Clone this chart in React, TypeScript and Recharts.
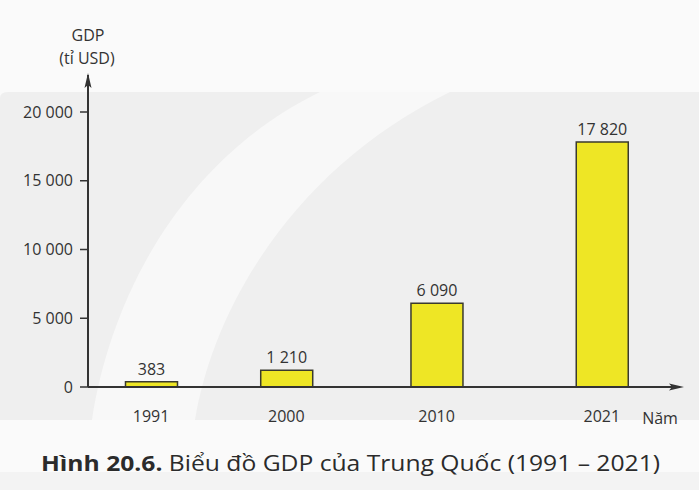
import React from "react";
import { BarChart, Bar, XAxis, YAxis, LabelList } from "recharts";

const years = [1991, 2000, 2010, 2021];
const gdp = [383, 1210, 6090, 17820];
const yTicks = [0, 5000, 10000, 15000, 20000];

const data = years.map((year, i) => ({ year, gdp: gdp[i] }));

const FONT = "'Open Sans', 'Noto Sans', sans-serif";
const INK = "#333333";

// "17820" -> "17 820"
function fmt(v: number | string): string {
  return String(v).replace(/\B(?=(\d{3})+(?!\d))/g, " ");
}

export default function App() {
  return (
    <div
      style={{
        position: "absolute",
        left: 0,
        top: 0,
        width: 699,
        height: 490,
        background: "#fafafa",
        fontFamily: FONT,
        overflow: "hidden",
      }}
    >
      {/* faded watermark behind the chart */}
      <svg width={699} height={490} style={{ position: "absolute", left: 0, top: 0 }}>
        <path d="M0 98 Q0 92 8 92 L699 92 L699 420 L0 420 Z" fill="#efefef" />
        <path
          d="M92 420 C110 300 180 160 320 92 L450 92 C300 165 215 300 195 420 Z"
          fill="#f8f8f8"
        />
        <path d="M0 472 L699 472 L699 490 L0 490 Z" fill="#f3f3f3" />
      </svg>

      <div style={{ position: "absolute", left: 0, top: 0 }}>
        <BarChart
          width={699}
          height={490}
          data={data}
          margin={{ top: 75, right: 19, bottom: 73, left: 8 }}
        >
          <XAxis
            dataKey="year"
            type="number"
            domain={[1986.8, 2026.2]}
            ticks={years}
            allowDataOverflow
            axisLine={{ stroke: INK, strokeWidth: 2 }}
            tickLine={false}
            tickSize={0}
            tickMargin={24}
            tick={{ fill: INK, fontSize: 16, fontFamily: FONT }}
          />
          <YAxis
            type="number"
            domain={[0, 22691]}
            ticks={yTicks}
            allowDataOverflow
            width={80}
            axisLine={{ stroke: INK, strokeWidth: 2 }}
            tickLine={{ stroke: INK, strokeWidth: 1.5 }}
            tickSize={8}
            tickMargin={7}
            tickFormatter={fmt}
            tick={{ fill: INK, fontSize: 16, fontFamily: FONT }}
          />
          <Bar
            dataKey="gdp"
            barSize={52}
            fill="#eee625"
            stroke="#3a3a2e"
            strokeWidth={1.5}
            isAnimationActive={false}
          >
            <LabelList
              dataKey="gdp"
              position="top"
              offset={7}
              formatter={(v: any) => fmt(v)}
              fill={INK}
              fontSize={16}
              fontFamily={FONT}
            />
          </Bar>
        </BarChart>
      </div>

      {/* axis arrows, axis captions and figure title */}
      <svg
        width={699}
        height={490}
        style={{ position: "absolute", left: 0, top: 0, pointerEvents: "none" }}
      >
        <path d="M88 73 L84.5 88 L88 85 L91.5 88 Z" fill={INK} />
        <path d="M684 387 L669 383.5 L672 387 L669 390.5 Z" fill={INK} />
        <text x={88} y={41} textAnchor="middle" fontSize={16} fill={INK} fontFamily={FONT}>
          GDP
        </text>
        <text x={87} y={64} textAnchor="middle" fontSize={16} fill={INK} fontFamily={FONT}>
          (tỉ USD)
        </text>
        <text x={660} y={424} textAnchor="middle" fontSize={16} fill={INK} fontFamily={FONT}>
          Năm
        </text>
        <text
          x={41}
          y={471}
          fontSize={22}
          fill="#2b2b2b"
          fontFamily={FONT}
          textLength={619}
          lengthAdjust="spacingAndGlyphs"
        >
          <tspan fontWeight="bold">Hình 20.6.</tspan>
          <tspan> Biểu đồ GDP của Trung Quốc (1991 – 2021)</tspan>
        </text>
      </svg>
    </div>
  );
}
